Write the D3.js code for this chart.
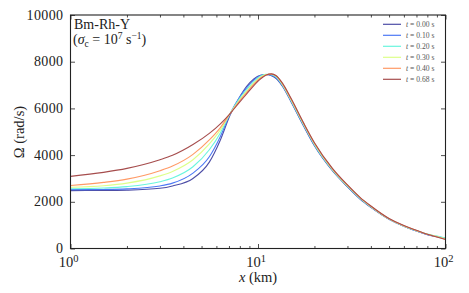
<!DOCTYPE html>
<html><head><meta charset="utf-8">
<script src="https://cdn.jsdelivr.net/npm/d3@7"></script>
<style>
html,body{margin:0;padding:0;background:#fff;}
svg{display:block;}
text{font-family:"Liberation Serif","DejaVu Serif",serif;fill:#222;}
</style></head>
<body><svg id="c" width="469" height="293"></svg>
<script>
// ---- data ----
const xValues = [1, 1.5, 2, 3, 3.5, 4.5, 5.5, 6.3, 7.1, 8, 8.7, 9.5, 10.3, 11, 11.8, 12.5, 13.5, 15, 17.5, 20, 25, 30, 35, 40, 50, 60, 70, 80, 90, 100];
const omega_t000 = [2480, 2485, 2500, 2580, 2680, 3000, 3700, 4650, 5720, 6500, 6940, 7260, 7420, 7450, 7400, 7280, 6950, 6290, 5250, 4400, 3320, 2640, 2120, 1760, 1250, 950, 750, 595, 505, 430];
const omega_t010 = [2520, 2530, 2555, 2680, 2800, 3230, 3930, 4800, 5770, 6500, 6880, 7210, 7410, 7455, 7420, 7310, 6970, 6310, 5270, 4420, 3340, 2655, 2135, 1770, 1255, 955, 755, 600, 515, 440];
const omega_t020 = [2560, 2590, 2650, 2860, 3020, 3500, 4230, 4950, 5780, 6440, 6800, 7150, 7380, 7460, 7440, 7340, 7000, 6340, 5300, 4450, 3360, 2670, 2150, 1785, 1262, 960, 760, 615, 530, 450];
const omega_t030 = [2620, 2690, 2800, 3110, 3300, 3800, 4480, 5080, 5780, 6380, 6740, 7090, 7340, 7450, 7460, 7370, 7030, 6370, 5330, 4480, 3380, 2690, 2170, 1800, 1268, 965, 765, 610, 515, 420];
const omega_t040 = [2700, 2830, 2970, 3330, 3530, 4030, 4650, 5180, 5780, 6330, 6680, 7040, 7300, 7430, 7470, 7400, 7060, 6400, 5360, 4510, 3400, 2710, 2180, 1810, 1275, 975, 775, 610, 500, 400];
const omega_t068 = [3090, 3260, 3430, 3800, 3990, 4450, 4930, 5340, 5780, 6280, 6620, 6980, 7260, 7420, 7480, 7400, 7080, 6430, 5380, 4530, 3420, 2720, 2190, 1820, 1285, 980, 780, 610, 490, 385];
const seriesLabels = ["0.00", "0.10", "0.20", "0.30", "0.40", "0.68"];
const yTicks = [0, 2000, 4000, 6000, 8000, 10000];
const xMajorExps = [0, 1, 2];

const seriesValues = [omega_t000, omega_t010, omega_t020, omega_t030, omega_t040, omega_t068];
const colors = ["#4d4da6", "#4d79f5", "#69f5de", "#ddff8a", "#ff9a66", "#a64d4d"];

// ---- layout ----
const L = 70.5, R = 445.5, T = 15, B = 248.5;
const svg = d3.select("#c");
const x = d3.scaleLog().domain([1, 100]).range([L, R]);
const y = d3.scaleLinear().domain([0, 10000]).range([B, T]);

// curves
const line = d3.line().x(d => x(d[0])).y(d => y(d[1])).curve(d3.curveMonotoneX);
seriesValues.forEach((vals, i) => {
  svg.append("path")
    .datum(xValues.map((xv, j) => [xv, vals[j]]))
    .attr("d", line).attr("fill", "none")
    .attr("stroke", colors[i]).attr("stroke-width", 1.1);
});

// ticks
const minorX = [];
for (let e = 0; e < 2; e++) for (let k = 2; k <= 9; k++) minorX.push(k * Math.pow(10, e));
const majorX = xMajorExps.map(e => Math.pow(10, e));
const tickStyle = g => { g.select(".domain").remove(); g.selectAll("line").attr("stroke", "#222").attr("stroke-width", 0.8); g.selectAll("text").remove(); };

svg.append("g").attr("transform", `translate(0,${B})`).call(d3.axisBottom(x).tickValues(majorX).tickSize(-4.5)).call(tickStyle);
svg.append("g").attr("transform", `translate(0,${B})`).call(d3.axisBottom(x).tickValues(minorX).tickSize(-2.5)).call(tickStyle);
svg.append("g").attr("transform", `translate(0,${T})`).call(d3.axisTop(x).tickValues(majorX).tickSize(-4.5)).call(tickStyle);
svg.append("g").attr("transform", `translate(0,${T})`).call(d3.axisTop(x).tickValues(minorX).tickSize(-2.5)).call(tickStyle);
svg.append("g").attr("transform", `translate(${L},0)`).call(d3.axisLeft(y).tickValues(yTicks).tickSize(-4.5)).call(tickStyle);
svg.append("g").attr("transform", `translate(${R},0)`).call(d3.axisRight(y).tickValues(yTicks).tickSize(-4.5)).call(tickStyle);

// frame
svg.append("rect").attr("x", L).attr("y", T).attr("width", R - L).attr("height", B - T)
  .attr("fill", "none").attr("stroke", "#222").attr("stroke-width", 1.1);

// y tick labels
svg.selectAll(".ylab").data(yTicks).enter().append("text")
  .attr("x", L - 7).attr("y", d => y(d) + 4.5)
  .attr("text-anchor", "end").attr("font-size", 14).attr("letter-spacing", 0.4)
  .text(d => d);

// x tick labels
xMajorExps.forEach(e => {
  const t = svg.append("text").attr("x", x(Math.pow(10, e)) - 2).attr("y", 267)
    .attr("text-anchor", "middle").attr("font-size", 14.5);
  t.append("tspan").text("10");
  t.append("tspan").attr("font-size", 10.5).attr("dy", -5).text(e);
});

// axis titles
const xl = svg.append("text").attr("x", 258).attr("y", 282).attr("text-anchor", "middle").attr("font-size", 14.5);
xl.append("tspan").attr("font-style", "italic").text("x");
xl.append("tspan").text(" (km)");
svg.append("text").attr("transform", "translate(24,132) rotate(-90)")
  .attr("text-anchor", "middle").attr("font-size", 14.5).text("Ω (rad/s)");

// annotation
svg.append("text").attr("x", 74).attr("y", 29).attr("font-size", 14).text("Bm-Rh-Y");
const a2 = svg.append("text").attr("x", 73).attr("y", 44).attr("font-size", 14);
a2.append("tspan").text("(");
a2.append("tspan").attr("font-style", "italic").text("σ");
a2.append("tspan").attr("font-size", 9.5).attr("dy", 2.5).text("c");
a2.append("tspan").attr("dy", -2.5).text(" = 10");
a2.append("tspan").attr("font-size", 9.5).attr("dy", -5).text("7");
a2.append("tspan").attr("dy", 5).text(" s");
a2.append("tspan").attr("font-size", 9.5).attr("dy", -5).text("−1");
a2.append("tspan").attr("dy", 5).text(")");

// legend
seriesLabels.forEach((lab, i) => {
  const ly = 24.3 + i * 11;
  svg.append("line").attr("x1", 383).attr("x2", 401).attr("y1", ly).attr("y2", ly)
    .attr("stroke", colors[i]).attr("stroke-width", 1.2);
  const t = svg.append("text").attr("x", 406).attr("y", ly + 2.6).attr("font-size", 7.6).style("fill", "#555");
  t.append("tspan").attr("font-style", "italic").text("t");
  t.append("tspan").text(" = " + lab + " s");
});
</script></body></html>
